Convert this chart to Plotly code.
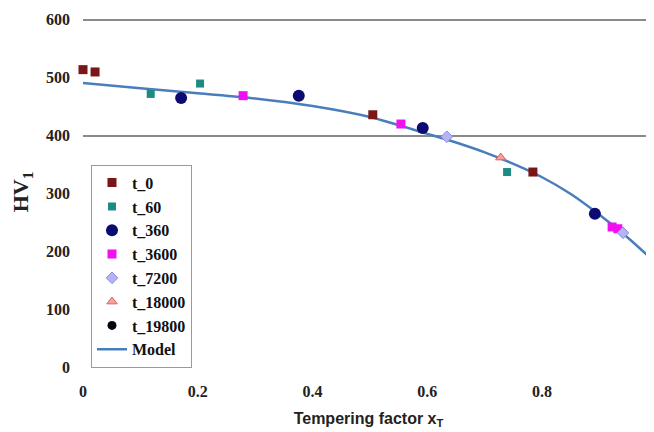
import plotly.graph_objects as go

# ---- data ----
t0_x = [0.0, 0.021, 0.505, 0.784]
t0_y = [514, 510, 436, 337]
t60_x = [0.118, 0.204, 0.739]
t60_y = [472, 490, 337]
t360_x = [0.171, 0.376, 0.592, 0.892]
t360_y = [465, 469, 413, 265]
t3600_x = [0.279, 0.554, 0.922, 0.932]
t3600_y = [469, 420, 242, 239]
t7200_x = [0.634, 0.941]
t7200_y = [398, 232]
t18000_x = [0.728]
t18000_y = [362]
t19800_x = [None]
t19800_y = [None]
model_x = [0.0, 0.1, 0.2, 0.3, 0.4, 0.5, 0.6, 0.65, 0.7, 0.75, 0.8, 0.85, 0.9, 0.95, 1.0]
model_y = [491, 482, 473, 464, 451, 432, 403, 388, 371, 351, 328, 299, 263, 223, 178]

x_tickvals = [0, 0.2, 0.4, 0.6, 0.8]
x_ticktext = ["0", "0.2", "0.4", "0.6", "0.8"]
y_tickvals = [0, 100, 200, 300, 400, 500, 600]
grid_vals = [400, 600]

serif = "Liberation Serif"

fig = go.Figure()

fig.add_trace(go.Scatter(x=model_x, y=model_y, mode="lines", name="Model",
                         line=dict(color="#4A7EBB", width=2.5, shape="spline", smoothing=0.8),
                         legendrank=2000, legendgroup="m"))

series = [
    ("t_0", t0_x, t0_y, dict(symbol="square", size=9, color="#7A1518")),
    ("t_60", t60_x, t60_y, dict(symbol="square", size=8, color="#1E8A84")),
    ("t_360", t360_x, t360_y, dict(symbol="circle", size=12, color="#0B0B72")),
    ("t_3600", t3600_x, t3600_y, dict(symbol="square", size=9, color="#F010F0")),
    ("t_7200", t7200_x, t7200_y, dict(symbol="diamond", size=9, color="#B4B4F4",
                                      line=dict(color="#8C8CE0", width=1))),
    ("t_18000", t18000_x, t18000_y, dict(symbol="triangle-up", size=9, color="#F7A0A0",
                                         line=dict(color="#E06060", width=1))),
    ("t_19800", t19800_x, t19800_y, dict(symbol="circle", size=9, color="#050510")),
]
for i, (name, xs, ys, mk) in enumerate(series):
    fig.add_trace(go.Scatter(x=xs, y=ys, mode="markers", name=name, marker=mk,
                             cliponaxis=False,
                             legendrank=1000 + i, legendgroup=name))

# gridlines at selected values via an overlaid axis
fig.add_trace(go.Scatter(x=[None], y=[None], yaxis="y2", showlegend=False))

fig.update_layout(
    width=654, height=432,
    margin=dict(l=75, r=8, t=9, b=73),
    paper_bgcolor="white", plot_bgcolor="white",
    showlegend=True,
    legend=dict(x=0.014, y=0.578, xanchor="left", yanchor="top",
                bgcolor="white", bordercolor="#9A9A9A", borderwidth=1,
                font=dict(family=serif, size=16, color="#111111", weight="bold"),
                tracegroupgap=0, itemwidth=30),
    xaxis=dict(range=[0, 0.995], tickvals=x_tickvals, ticktext=x_ticktext,
               showgrid=False, zeroline=False, showline=False, ticks="",
               ticklabelstandoff=13, automargin=False,
               tickfont=dict(family=serif, size=16, color="#222222", weight="bold"),
               title=dict(text="Tempering factor x<sub>T</sub>", standoff=13,
                          font=dict(family="Liberation Sans", size=16, color="#222222",
                                    weight="bold"))),
    yaxis=dict(range=[0, 605], tickvals=y_tickvals,
               showgrid=False, zeroline=False, showline=False, ticks="",
               ticklabelstandoff=12, automargin=False,
               tickfont=dict(family=serif, size=16, color="#222222", weight="bold"),
               title=dict(text="HV<sub>1</sub>", standoff=16,
                          font=dict(family=serif, size=22, color="#222222", weight="bold"))),
    yaxis2=dict(range=[0, 605], overlaying="y", tickvals=grid_vals, showticklabels=False,
                showgrid=True, gridcolor="#8A8A8A", gridwidth=1.5, zeroline=False,
                showline=False, ticks="", automargin=False),
)

fig.write_html("out.html")
